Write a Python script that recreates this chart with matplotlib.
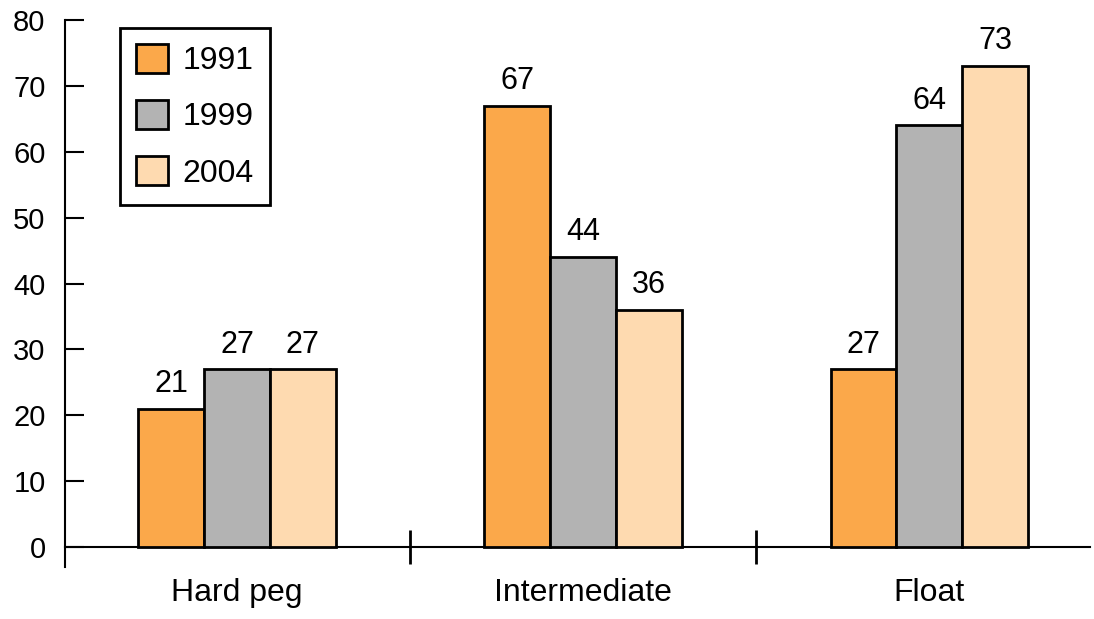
import matplotlib
matplotlib.use('Agg')
import matplotlib.pyplot as plt
import numpy as np

# Data
categories = ['Hard peg', 'Intermediate', 'Float']
years = ['1991', '1999', '2004']
v1991 = [21, 67, 27]
v1999 = [27, 44, 64]
v2004 = [27, 36, 73]
colors = ['#FBA84A', '#B3B3B3', '#FEDAB0']

plt.rcParams['font.family'] = ['Liberation Sans', 'DejaVu Sans']

fig = plt.figure(figsize=(10.94, 6.19), dpi=100)
ax = fig.add_axes([0.0594, 0.084, 0.937, 0.884])

x = np.arange(len(categories))
width = 0.19
series = [v1991, v1999, v2004]
for i, vals in enumerate(series):
    xs = x + (i - 1) * width
    bars = ax.bar(xs, vals, width=width, color=colors[i], edgecolor='black',
                  linewidth=2, label=years[i], zorder=3)
    for b, v in zip(bars, vals):
        ax.annotate(str(v), (b.get_x() + b.get_width() / 2, v),
                    xytext=(0, 7), textcoords='offset points',
                    ha='center', va='bottom', fontsize=22)

ax.set_xlim(-0.497, 2.465)
ax.set_ylim(-3, 80)

for s in ['top', 'right']:
    ax.spines[s].set_visible(False)
ax.spines['bottom'].set_position(('data', 0))
ax.spines['bottom'].set_linewidth(1.5)
ax.spines['left'].set_linewidth(1.5)

ax.set_yticks(np.arange(0, 81, 10))
ax.tick_params(axis='y', direction='in', length=14, width=1.5, pad=14, labelsize=21)

ax.set_xticks(x)
ax.set_xticklabels(categories)
ax.tick_params(axis='x', which='major', length=0, pad=22, labelsize=23)
ax.set_xticks([0.5, 1.5], minor=True)
ax.tick_params(axis='x', which='minor', direction='inout', length=25, width=2)

leg = ax.legend(loc='upper left', bbox_to_anchor=(0.054, 0.985), borderaxespad=0,
                fontsize=23, handlelength=1.0, handleheight=1.0, labelspacing=0.75,
                handletextpad=0.45, borderpad=0.5, fancybox=False, frameon=True,
                framealpha=1)
leg.get_frame().set_edgecolor('black')
leg.get_frame().set_linewidth(2)

fig.savefig('out.png', dpi=100)
